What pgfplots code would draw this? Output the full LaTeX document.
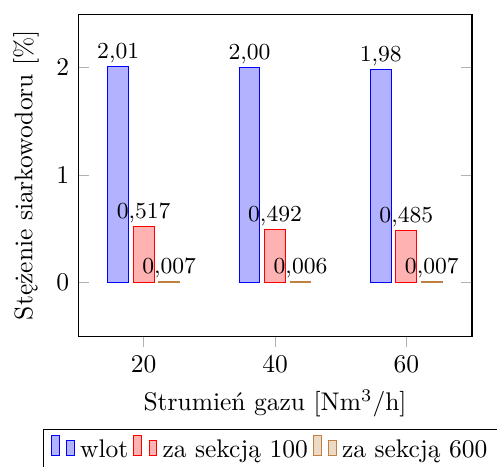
\documentclass[border=0pt]{standalone}
\usepackage{fontspec}
\usepackage{pgfplots}
\pgfplotsset{compat=1.18}
\begin{document}
\begin{tikzpicture}
\begin{axis}[
  scale only axis,
  width=154.5pt, height=126.3pt,
  ybar=1.8pt,
  bar width=8.2pt,
  xmin=10, xmax=70,
  ymin=-0.5, ymax=2.5,
  xtick={20,40,60},
  ytick={0,1,2},
  xtick pos=bottom,
  xtick align=outside,
  ytick pos=both,
  ytick align=inside,
  major tick style={gray!60},
  xlabel={Strumień gazu [Nm$^3$/h]},
  ylabel={Stężenie siarkowodoru [\%]},
  nodes near coords style={font=\small, black, inner sep=1.2pt},
  legend style={at={(-0.089,-0.289)}, anchor=north west, legend columns=-1, draw=black},
]
\addplot[draw=blue, fill=blue!30, nodes near coords={\pgfmathprintnumber[fixed,zerofill,precision=2,use comma]{\pgfplotspointmeta}}] coordinates {(20,2.01) (40,2.00) (60,1.98)};
\addplot[draw=red, fill=red!30, nodes near coords={\pgfmathprintnumber[fixed,zerofill,precision=3,use comma]{\pgfplotspointmeta}}] coordinates {(20,0.517) (40,0.492) (60,0.485)};
\addplot[draw=brown, fill=brown!30, nodes near coords={\pgfmathprintnumber[fixed,zerofill,precision=3,use comma]{\pgfplotspointmeta}}] coordinates {(20,0.007) (40,0.006) (60,0.007)};
\legend{wlot, za sekcją 100, za sekcją 600}
\end{axis}
\pgfresetboundingbox
\useasboundingbox ([xshift=-30.6pt,yshift=-51pt]current axis.south west) rectangle ([xshift=9.8pt,yshift=5.5pt]current axis.north east);
\end{tikzpicture}
\end{document}
